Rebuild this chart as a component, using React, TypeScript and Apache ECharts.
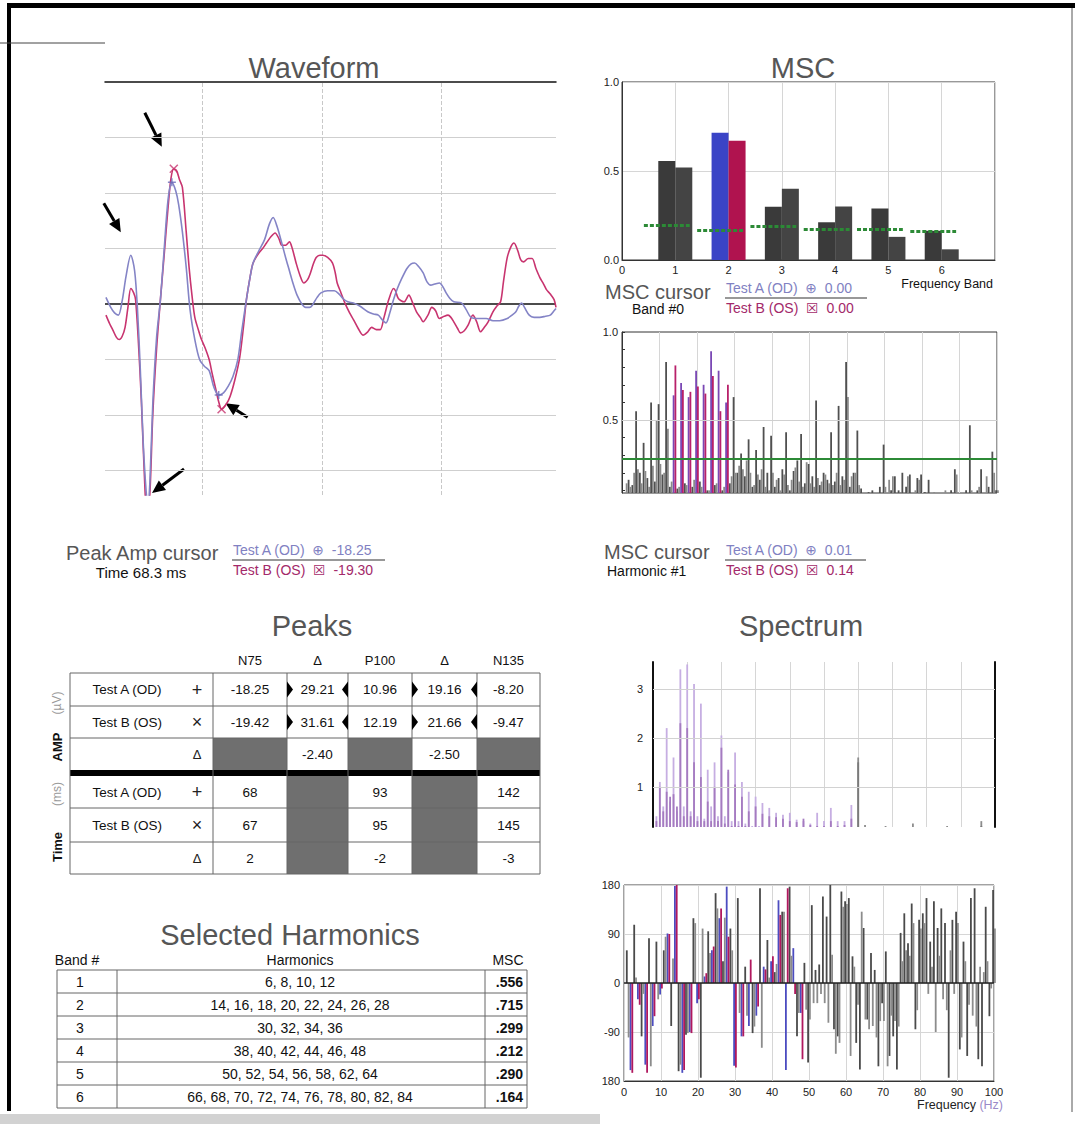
import React, { useEffect, useRef } from "react";
import * as echarts from "echarts";

const FONT = "'Liberation Sans', Arial, Helvetica, 'DejaVu Sans', sans-serif";
const TITLE_GRAY = "#565656";
const TEXT_A = "#8181c2";
const TEXT_B = "#a3296a";

// ---------- Waveform: [time (ms), amplitude (µV)] ----------
const waveA: [number, number][] = [
  [24, 0.6], [29, -0.3], [33, -0.8], [37, -1.0], [41, 0.3], [45, 2.5], [50, 4.4], [54, 3.0], [57, -0.5],
  [60, -6], [63, -12.5], [66, -16.8], [68, -18.25], [70, -16], [73, -9], [77, -3], [81, 0.4], [85, 5],
  [89, 9.4], [93, 10.96], [97, 10.2], [100, 9.0], [104, 6.5], [108, 3.3], [112, -0.5], [117, -3.2],
  [122, -5.0], [127, -5.6], [132, -6.0], [137, -7.5], [142, -8.2], [147, -8.0], [152, -7.4], [157, -6.5],
  [162, -5], [166, -2.5], [171, 0.4], [175, 2.5], [178, 3.7], [184, 4.8], [190, 5.8], [195, 7.2],
  [199, 7.8], [203, 7.0], [208, 5.5], [212, 4.2], [216, 3.0], [220, 1.8], [224, 0.8], [229, 0.0],
  [233, -0.3], [237, -0.3], [240, -0.1], [245, 0.6], [249, 1.0], [256, 1.2], [263, 1.2], [268, 0.9],
  [272, 0.5], [277, 0.2], [283, 0.1], [290, -0.2], [298, -0.7], [304, -0.9], [309, -1.0], [313, -1.4],
  [317, -1.7], [321, -0.8], [325, 0.4], [329, 1.4], [333, 2.2], [339, 3.2], [343, 3.6], [347, 3.7],
  [351, 3.4], [356, 2.8], [360, 2.0], [364, 1.7], [368, 1.8], [373, 1.9], [377, 1.5], [380, 1.0],
  [384, 0.5], [388, 0.2], [396, 0.1], [401, -0.5], [406, -1.2], [414, -1.3], [422, -1.3], [429, -1.5],
  [436, -1.5], [444, -1.3], [449, -1.0], [453, -0.7], [456, -0.2], [459, 0.1], [462, -0.3], [467, -1.0],
  [472, -1.2], [478, -1.2], [484, -1.1], [489, -1.0], [493, -0.6], [495, -0.4],
];
const waveB: [number, number][] = [
  [24, -1.0], [28, -1.8], [31, -2.3], [35, -3.0], [38, -3.2], [41, -2.9], [44, -2.1], [47, -0.3],
  [50, 1.4], [53, 1.0], [55, 0.4], [58, -3.5], [61, -8.6], [64, -15], [67, -19.42], [70, -17], [73, -10],
  [77, -4], [81, 0.4], [85, 4.5], [89, 8.7], [92, 11.3], [95, 12.19], [98, 12.0], [101, 11.2], [104, 10.5],
  [108, 6.5], [111, 3.3], [114, 0.8], [117, -1.2], [121, -2.4], [124, -3.2], [128, -4.0], [132, -5.0],
  [135, -6.2], [139, -7.7], [142, -8.8], [145, -9.47], [150, -9.0], [154, -8.3], [159, -6.8], [164, -4.8],
  [168, -2.0], [171, 0.4], [175, 2.5], [178, 3.7], [184, 4.6], [188, 5.0], [192, 5.5], [197, 6.1],
  [201, 6.4], [205, 5.9], [208, 5.3], [212, 5.3], [216, 5.6], [219, 5.0], [223, 3.7], [227, 2.6],
  [231, 1.9], [235, 2.2], [238, 2.8], [241, 3.6], [244, 4.2], [248, 4.4], [251, 4.4], [256, 4.2],
  [261, 3.7], [264, 2.8], [266, 1.9], [270, 1.0], [274, 0.1], [279, -0.8], [283, -1.4], [288, -2.2],
  [293, -2.8], [298, -2.5], [302, -2.1], [307, -2.3], [311, -2.3], [315, -1.2], [320, 0.4], [325, 1.4],
  [327, 1.2], [330, 0.5], [336, 0.2], [341, 0.8], [345, 0.1], [349, -0.7], [353, -1.2], [356, -1.6],
  [361, -1.0], [365, -0.3], [369, -0.6], [373, -1.3], [378, -1.1], [382, -1.0], [385, -1.2], [388, -1.6],
  [392, -2.2], [395, -2.6], [399, -2.4], [403, -1.9], [408, -1.0], [412, -1.6], [416, -2.5], [420, -2.1],
  [424, -1.6], [429, -0.7], [433, -0.2], [437, 0.2], [440, 2.0], [444, 4.2], [448, 5.2], [451, 5.5],
  [455, 4.8], [458, 4.0], [461, 3.8], [466, 4.1], [470, 4.1], [474, 3.2], [478, 2.4], [482, 1.8],
  [485, 1.3], [489, 0.9], [493, 0.4], [495, -0.3],
];

// ---------- Peaks ----------
const peakNames = ["N75", "P100", "N135"];
const peakTimeA = [68, 93, 142];
const peakTimeB = [67, 95, 145];
const peakTimeDiff = [2, -2, -3];
const peakAmpA = [-18.25, 10.96, -8.2];
const peakAmpB = [-19.42, 12.19, -9.47];
const p2pA = [29.21, 19.16];
const p2pB = [31.61, 21.66];
const p2pDiff = [-2.4, -2.5];

// ---------- MSC per frequency band ----------
const bandNumbers = [1, 2, 3, 4, 5, 6];
const bandMscA = [0.556, 0.715, 0.299, 0.212, 0.29, 0.164];
const bandMscB = [0.52, 0.67, 0.4, 0.3, 0.13, 0.06];
const bandNoise = [0.195, 0.165, 0.19, 0.175, 0.17, 0.16];
const bandHarmonics = [
  [6, 8, 10, 12],
  [14, 16, 18, 20, 22, 24, 26, 28],
  [30, 32, 34, 36],
  [38, 40, 42, 44, 46, 48],
  [50, 52, 54, 56, 58, 62, 64],
  [66, 68, 70, 72, 74, 76, 78, 80, 82, 84],
];
const cursorBand = 2;

// ---------- Per-harmonic values, 1 … 100 Hz ----------
const harmonicMscA = [
  0.01, 0.16, 0.13, 0.55, 0.2, 0.37, 0.17, 0.6, 0.15, 0.59,
  0.19, 0.83, 0.12, 0.64, 0.11, 0.71, 0.14, 0.63, 0.12, 0.78,
  0.15, 0.7, 0.1, 0.89, 0.13, 0.78, 0.1, 0.6, 0.14, 0.63,
  0.2, 0.31, 0.18, 0.39, 0.12, 0.33, 0.16, 0.46, 0.2, 0.41,
  0.12, 0.17, 0.22, 0.43, 0.1, 0.21, 0.27, 0.42, 0.14, 0.25,
  0.18, 0.61, 0.13, 0.2, 0.16, 0.43, 0.15, 0.58, 0.18, 0.83,
  0.12, 0.2, 0.44, 0.11, 0.06, 0.09, 0.1, 0.06, 0.12, 0.36,
  0.07, 0.1, 0.18, 0.1, 0.2, 0.12, 0.19, 0.08, 0.17, 0.19,
  0.09, 0.16, 0.06, 0.07, 0.05, 0.08, 0.06, 0.1, 0.22, 0.08,
  0.06, 0.1, 0.47, 0.06, 0.1, 0.22, 0.08, 0.12, 0.32, 0.1,
];
const harmonicMscB = [
  0.14, 0.12, 0.2, 0.22, 0.14, 0.21, 0.12, 0.24, 0.5, 0.25,
  0.2, 0.45, 0.15, 0.81, 0.12, 0.67, 0.13, 0.66, 0.16, 0.69,
  0.12, 0.65, 0.1, 0.75, 0.14, 0.55, 0.12, 0.7, 0.18, 0.2,
  0.24, 0.22, 0.27, 0.2, 0.13, 0.19, 0.22, 0.12, 0.1, 0.2,
  0.16, 0.1, 0.19, 0.13, 0.16, 0.23, 0.15, 0.12, 0.26, 0.14,
  0.12, 0.17, 0.15, 0.19, 0.14, 0.13, 0.2, 0.13, 0.16, 0.63,
  0.18, 0.2, 0.13, 0.06, 0.08, 0.06, 0.07, 0.05, 0.08, 0.12,
  0.16, 0.18, 0.07, 0.09, 0.06, 0.18, 0.08, 0.1, 0.16, 0.08,
  0.07, 0.06, 0.09, 0.05, 0.06, 0.1, 0.07, 0.09, 0.19, 0.06,
  0.08, 0.06, 0.1, 0.07, 0.12, 0.06, 0.18, 0.09, 0.2, 0.1,
];
const harmonicNoise = 0.28;

const spectrumA = [
  0.4, 1.1, 0.6, 2.2, 0.7, 1.6, 0.5, 3.4, 0.6, 3.5,
  0.5, 3.1, 0.4, 2.7, 0.35, 1.35, 0.6, 1.5, 0.4, 2.05,
  0.4, 1.3, 0.3, 1.7, 0.3, 1.1, 0.25, 0.9, 0.2, 0.8,
  0.2, 0.67, 0.15, 0.57, 0.15, 0.47, 0.12, 0.43, 0.15, 0.47,
  0.1, 0.33, 0.1, 0.3, 0.1, 0.25, 0.1, 0.47, 0.1, 0.3,
  0.1, 0.57, 0.1, 0.3, 0.1, 0.3, 0.1, 0.63, 0.1, 1.6,
  0.1, 0.22, 0.1, 0.12, 0.1, 0.15, 0.1, 0.2, 0.1, 0.12,
  0.1, 0.14, 0.1, 0.12, 0.1, 0.25, 0.1, 0.12, 0.1, 0.14,
  0.1, 0.12, 0.1, 0.15, 0.1, 0.2, 0.1, 0.12, 0.1, 0.12,
  0.1, 0.12, 0.1, 0.14, 0.1, 0.3, 0.1, 0.12, 0.1, 0.12,
];
const spectrumB = [
  0.3, 1.0, 0.5, 0.9, 0.8, 0.85, 0.6, 2.3, 0.4, 2.2,
  0.4, 1.5, 0.3, 1.2, 0.3, 0.7, 0.3, 1.0, 0.3, 1.8,
  0.25, 1.35, 0.2, 1.05, 0.2, 0.8, 0.2, 0.5, 0.15, 0.6,
  0.12, 0.45, 0.12, 0.4, 0.1, 0.38, 0.1, 0.35, 0.1, 0.3,
  0.1, 0.28, 0.1, 0.35, 0.1, 0.22, 0.1, 0.2, 0.1, 0.2,
  0.1, 0.3, 0.1, 0.2, 0.1, 0.22, 0.1, 0.35, 0.1, 1.5,
  0.1, 0.15, 0.1, 0.1, 0.1, 0.12, 0.1, 0.1, 0.1, 0.1,
  0.1, 0.1, 0.1, 0.1, 0.1, 0.15, 0.1, 0.1, 0.1, 0.1,
  0.1, 0.1, 0.1, 0.1, 0.1, 0.12, 0.1, 0.1, 0.1, 0.1,
  0.1, 0.1, 0.1, 0.1, 0.1, 0.2, 0.1, 0.1, 0.1, 0.1,
];
const phaseA = [
  60, -160, 107, -30, -98, -150, 82, -79, 76, -21,
  60, 91, -79, 178, -162, -165, -95, -90, 119, -37,
  -174, 12, 95, 60, 165, 119, 40, 177, 100, -152,
  156, -98, 30, -79, -92, -60, 174, 30, 79, 40,
  20, 152, 131, -160, 177, 64, -98, -55, 37, -146,
  143, 24, 34, 159, 122, 180, -85, -98, 168, 150,
  156, 49, -110, -159, 101, -67, 55, 24, -153, -37,
  58, -134, -98, -159, 92, 128, 73, 146, -85, 116,
  128, 156, 76, 150, 101, 137, 110, -174, 116, 131,
  -122, 76, -134, 156, 174, -140, -153, 140, -61, 171,
];
const phaseB = [
  -100, -165, 10, -40, -20, -165, -153, -61, -30, -10,
  85, 90, 45, 180, -150, -160, -92, -92, 110, -30,
  100, 18, 55, 67, 137, 137, 120, 85, 60, -155,
  -55, -98, -60, 43, -80, -43, -119, 25, 10, 49,
  35, 125, 131, 174, 50, -20, -55, -140, -49, -67,
  -37, -37, -20, -37, -73, 52, -130, -110, 140, 145,
  -134, 30, -40, 131, -67, -85, -79, -100, -70, -70,
  -153, -60, -70, -80, 40, 60, 50, 110, -50, 100,
  110, -20, 30, -90, 50, -30, -50, 60, -20, 110,
  -100, 40, -40, -60, -80, 30, 20, 40, -10, 100,
];

// ---------- Layout ----------
const WF = { left: 105, top: 82, width: 451, height: 413, tMin: 23, tMax: 495, vMin: -17.2, vMax: 20 };
const wfX = (t: number) => WF.left + ((t - WF.tMin) / (WF.tMax - WF.tMin)) * WF.width;
const wfY = (v: number) => WF.top + ((WF.vMax - v) / (WF.vMax - WF.vMin)) * WF.height;

const txt = (x: number, y: number, text: string, size: number, fill: string, align = "left", extra: any = {}) => ({
  type: "text", x, y, silent: true,
  style: { text, fontSize: size, fontFamily: FONT, fill, align, verticalAlign: "middle", ...extra },
});
const vtxt = (x: number, y: number, text: string, size: number, fill: string, extra: any = {}) => ({
  ...txt(x, y, text, size, fill, "center", extra),
  rotation: Math.PI / 2,
});
const hline = (x1: number, x2: number, y: number, stroke = "#555", w = 1) => ({
  type: "line", silent: true, shape: { x1, y1: y, x2, y2: y }, style: { stroke, lineWidth: w },
});
const vline = (x: number, y1: number, y2: number, stroke = "#555", w = 1) => ({
  type: "line", silent: true, shape: { x1: x, y1, x2: x, y2 }, style: { stroke, lineWidth: w },
});
const box = (x: number, y: number, width: number, height: number, fill: string) => ({
  type: "rect", silent: true, shape: { x, y, width, height }, style: { fill },
});

function arrow(hx: number, hy: number, tx: number, ty: number) {
  const dx = hx - tx, dy = hy - ty;
  const len = Math.hypot(dx, dy);
  const ux = dx / len, uy = dy / len;
  const hl = 13, hw = 6;
  const bx = hx - ux * hl, by = hy - uy * hl;
  return [
    { type: "line", silent: true, shape: { x1: tx, y1: ty, x2: bx, y2: by }, style: { stroke: "#000", lineWidth: 3 } },
    {
      type: "polygon", silent: true,
      shape: { points: [[hx, hy], [bx - uy * hw, by + ux * hw], [bx + uy * hw, by - ux * hw]] },
      style: { fill: "#000" },
    },
  ];
}

function cursorLines(x: number, y: number, w: number, aVal: string, bVal: string) {
  return [
    txt(x + 1, y - 10, `Test A (OD)  \u2295  ${aVal}`, 14, TEXT_A),
    hline(x, x + w, y, "#333", 1.2),
    txt(x + 1, y + 10, `Test B (OS)  \u2612  ${bVal}`, 14, TEXT_B),
  ];
}

function peaksTable() {
  const xs = [70, 213, 287, 348, 412, 477, 540];
  const ampRows = [673, 706, 738, 770];
  const timeRows = [776, 808, 842, 874];
  const centers = xs.slice(1, -1).map((x, i) => (x + xs[i + 2]) / 2);
  const els: any[] = [];
  const header = [peakNames[0], "\u0394", peakNames[1], "\u0394", peakNames[2]];
  header.forEach((h, i) => els.push(txt(centers[i], 660, h, 13, "#111", "center")));

  const ampA = [peakAmpA[0], p2pA[0], peakAmpA[1], p2pA[1], peakAmpA[2]].map((v) => v.toFixed(2));
  const ampB = [peakAmpB[0], p2pB[0], peakAmpB[1], p2pB[1], peakAmpB[2]].map((v) => v.toFixed(2));
  const ampD = ["", p2pDiff[0].toFixed(2), "", p2pDiff[1].toFixed(2), ""];
  const tA = [String(peakTimeA[0]), "", String(peakTimeA[1]), "", String(peakTimeA[2])];
  const tB = [String(peakTimeB[0]), "", String(peakTimeB[1]), "", String(peakTimeB[2])];
  const tD = [String(peakTimeDiff[0]), "", String(peakTimeDiff[1]), "", String(peakTimeDiff[2])];

  // shaded cells
  [0, 2, 4].forEach((c) => els.push(box(xs[c + 1], ampRows[2], xs[c + 2] - xs[c + 1], ampRows[3] - ampRows[2], "#6f6f6f")));
  [1, 3].forEach((c) => els.push(box(xs[c + 1], timeRows[0], xs[c + 2] - xs[c + 1], timeRows[3] - timeRows[0], "#6f6f6f")));

  // rules
  ampRows.slice(0, 3).forEach((y) => els.push(hline(xs[0], xs[6], y, "#666")));
  timeRows.slice(1).forEach((y) => els.push(hline(xs[0], xs[6], y, "#666")));
  els.push(box(xs[0], 770, xs[6] - xs[0], 6, "#000"));
  xs.forEach((x) => els.push(vline(x, ampRows[0], timeRows[3], "#666")));

  const labels = ["Test A (OD)", "Test B (OS)", ""];
  const symbols = ["+", "\u00d7", "\u0394"];
  const fill = (rows: number[], data: string[][]) => {
    data.forEach((row, r) => {
      const yc = (rows[r] + rows[r + 1]) / 2;
      if (labels[r]) els.push(txt(127, yc, labels[r], 13.5, "#111", "center"));
      els.push(txt(197, yc, symbols[r], r === 2 ? 13 : 18, "#222", "center"));
      row.forEach((v, c) => {
        if (v) els.push(txt(centers[c], yc, v, 13.5, "#111", "center"));
      });
    });
  };
  fill(ampRows, [ampA, ampB, ampD]);
  fill(timeRows, [tA, tB, tD]);

  // peak-to-peak markers in the amplitude delta columns
  [0, 1].forEach((r) => {
    const yc = (ampRows[r] + ampRows[r + 1]) / 2;
    [1, 3].forEach((c) => {
      const xl = xs[c + 1], xr = xs[c + 2];
      els.push({ type: "polygon", silent: true, shape: { points: [[xl, yc - 8], [xl + 6, yc], [xl, yc + 8]] }, style: { fill: "#000" } });
      els.push({ type: "polygon", silent: true, shape: { points: [[xr, yc - 8], [xr - 6, yc], [xr, yc + 8]] }, style: { fill: "#000" } });
    });
  });

  // side labels
  els.push(vtxt(57, 703, "(\u00b5V)", 12, "#9a9a9a"));
  els.push(vtxt(57, 747, "AMP", 13, "#111", { fontWeight: "bold" }));
  els.push(vtxt(57, 794, "(ms)", 12, "#9a9a9a"));
  els.push(vtxt(57, 847, "Time", 13, "#111", { fontWeight: "bold" }));
  return els;
}

function harmonicsTable() {
  const els: any[] = [];
  const xs = [57, 117, 485, 527];
  const ys = [970, 993, 1016, 1039, 1062, 1085, 1108];
  els.push(txt(77, 960, "Band #", 14, "#111", "center"));
  els.push(txt(300, 960, "Harmonics", 14, "#111", "center"));
  els.push(txt(508, 960, "MSC", 14, "#111", "center"));
  ys.forEach((y) => els.push(hline(xs[0], xs[3], y, "#666")));
  xs.forEach((x) => els.push(vline(x, ys[0], ys[6], "#666")));
  bandNumbers.forEach((b, i) => {
    const yc = (ys[i] + ys[i + 1]) / 2;
    els.push(txt(80, yc, String(b), 14, "#111", "center"));
    els.push(txt(300, yc, bandHarmonics[i].join(", "), 14, "#111", "center"));
    els.push(txt(523, yc, bandMscA[i].toFixed(3).replace(/^0/, ""), 14, "#111", "right", { fontWeight: "bold" }));
  });
  return els;
}

function buildGraphics() {
  const els: any[] = [];
  // page frame
  els.push(box(8, 3, 1067, 5, "#000"));
  els.push(box(7, 3, 4, 1108, "#000"));
  els.push(vline(1072, 8, 1112, "#555", 1));
  els.push(hline(0, 105, 43, "#444", 1));
  els.push(box(0, 1114, 600, 10, "#d2d2d2"));

  // titles
  els.push(txt(314, 68, "Waveform", 29, TITLE_GRAY, "center"));
  els.push(txt(803, 68, "MSC", 29, TITLE_GRAY, "center"));
  els.push(txt(312, 626, "Peaks", 29, TITLE_GRAY, "center"));
  els.push(txt(801, 626, "Spectrum", 29, TITLE_GRAY, "center"));
  els.push(txt(290, 935, "Selected Harmonics", 29, TITLE_GRAY, "center"));

  // band MSC cursor read-out
  els.push(txt(605, 292, "MSC cursor", 20, TITLE_GRAY));
  els.push(txt(658, 309, "Band #0", 14, "#111", "center"));
  els.push(...cursorLines(725, 298, 142, "0.00", "0.00"));
  els.push(txt(993, 284, "Frequency Band", 12.5, "#111", "right"));

  // harmonic MSC cursor read-out
  els.push(txt(604, 552, "MSC cursor", 20, TITLE_GRAY));
  els.push(txt(607, 571, "Harmonic #1", 14, "#111"));
  els.push(...cursorLines(725, 560, 141, harmonicMscA[0].toFixed(2), harmonicMscB[0].toFixed(2)));

  // waveform cursor read-out
  els.push(txt(66, 553, "Peak Amp cursor", 20, TITLE_GRAY));
  els.push(txt(141, 572, "Time 68.3 ms", 15, "#111", "center"));
  els.push(...cursorLines(232, 560, 153, peakAmpA[0].toFixed(2), "-19.30"));

  // phase x-axis name
  els.push({
    type: "text", x: 960, y: 1105, silent: true,
    style: {
      text: "{a|Frequency} {b|(Hz)}", align: "center", verticalAlign: "middle",
      rich: {
        a: { fontSize: 12.5, fontFamily: FONT, fill: "#222" },
        b: { fontSize: 12.5, fontFamily: FONT, fill: "#9a8ac8" },
      },
    },
  });

  // arrows pointing at waveform peaks
  const p50 = waveA.find((p) => p[0] === 50)!;
  const headA = [wfX(p50[0]) - 10, wfY(p50[1]) - 23];
  const headP100 = [wfX(peakTimeB[1]) - 12, wfY(peakAmpB[1]) - 22];
  const headN135 = [wfX(peakTimeB[2]) + 4, wfY(peakAmpB[2]) - 6];
  const headN75 = [wfX(peakTimeB[0]) + 5, WF.top + WF.height - 2];
  els.push(...arrow(headA[0], headA[1], headA[0] - 17, headA[1] - 29));
  els.push(...arrow(headP100[0], headP100[1], headP100[0] - 17, headP100[1] - 34));
  els.push(...arrow(headN135[0], headN135[1], headN135[0] + 22, headN135[1] + 14));
  els.push(...arrow(headN75[0], headN75[1], headN75[0] + 32, headN75[1] - 24));

  els.push(...peaksTable());
  els.push(...harmonicsTable());
  return els;
}

const freqs = harmonicMscA.map((_, i) => i + 1);
const cursorHarmonics = bandHarmonics[cursorBand - 1];
const phaseColoured = bandHarmonics.slice(0, 4).flat().concat([2, 4]);

const markLineBase = { silent: true, symbol: ["none", "none"], label: { show: false }, animation: false };

function buildOption(): any {
  const grayAxisLine = { lineStyle: { color: "#333", width: 1 } };
  const split = { show: true, lineStyle: { color: "#d6d6d6", width: 1 } };
  const labelStyle = { fontSize: 11, color: "#222", fontFamily: FONT };

  return {
    animation: false,
    backgroundColor: "#fff",
    textStyle: { fontFamily: FONT },
    grid: [
      { left: WF.left, top: WF.top, width: WF.width, height: WF.height },
      { left: 622, top: 82, width: 373, height: 178, show: true, borderColor: "#333", borderWidth: 1 },
      { left: 622, top: 332, width: 375, height: 161, show: true, borderColor: "#333", borderWidth: 1 },
      { left: 653, top: 662, width: 342, height: 165 },
      { left: 624, top: 885, width: 370, height: 196, show: true, borderColor: "#444", borderWidth: 1 },
    ],
    xAxis: [
      {
        gridIndex: 0, type: "value", min: WF.tMin, max: WF.tMax, position: "top",
        axisLine: { show: true, onZero: false, lineStyle: { color: "#111", width: 1.5 } },
        axisTick: { show: false }, axisLabel: { show: false }, splitLine: { show: false },
      },
      {
        gridIndex: 1, type: "value", min: 0, max: 7, interval: 1,
        axisLine: { show: true, onZero: false, ...grayAxisLine }, axisTick: { show: false },
        axisLabel: { ...labelStyle, margin: 4, formatter: (v: number) => (v === 7 ? "" : String(v)) },
        splitLine: split,
      },
      {
        gridIndex: 2, type: "value", min: 0, max: 100, interval: 10,
        axisLine: { show: false, onZero: false }, axisTick: { show: false }, axisLabel: { show: false }, splitLine: split,
      },
      {
        gridIndex: 3, type: "value", min: 0, max: 100, interval: 10,
        axisLine: { show: false, onZero: false }, axisTick: { show: false }, axisLabel: { show: false }, splitLine: split,
      },
      {
        gridIndex: 4, type: "value", min: 0, max: 100, interval: 10,
        axisLine: { show: true, onZero: false, ...grayAxisLine }, axisTick: { show: false },
        axisLabel: { ...labelStyle, margin: 5 }, splitLine: split,
      },
    ],
    yAxis: [
      { gridIndex: 0, type: "value", min: WF.vMin, max: WF.vMax, show: false },
      {
        gridIndex: 1, type: "value", min: 0, max: 1, interval: 0.5,
        axisLine: { show: true, onZero: false, ...grayAxisLine }, axisTick: { show: false },
        axisLabel: { ...labelStyle, margin: 3, formatter: (v: number) => v.toFixed(1) }, splitLine: split,
      },
      {
        gridIndex: 2, type: "value", min: 0.085, max: 1,
        axisLine: { show: true, onZero: false, ...grayAxisLine },
        axisTick: { show: true, inside: true, length: 3, lineStyle: { color: "#333" }, customValues: [0.1, 0.2, 0.3, 0.4, 0.5, 0.6, 0.7, 0.8, 0.9, 1.0] },
        axisLabel: { ...labelStyle, margin: 4, customValues: [0.5, 1.0], formatter: (v: number) => v.toFixed(1) },
        splitLine: { show: false },
      },
      {
        gridIndex: 3, type: "value", min: 0.18, max: 3.55,
        axisLine: { show: true, onZero: false, lineStyle: { color: "#111", width: 2 } }, axisTick: { show: false },
        axisLabel: { ...labelStyle, margin: 10, customValues: [1, 2, 3], formatter: (v: number) => String(Math.round(v)) },
        splitLine: { show: false },
      },
      {
        gridIndex: 4, type: "value", min: -180, max: 180, interval: 90,
        axisLine: { show: false, onZero: false }, axisTick: { show: false },
        axisLabel: { ...labelStyle, margin: 4, formatter: (v: number) => (v === -180 ? "180" : String(v)) },
        splitLine: split,
      },
      {
        gridIndex: 3, type: "value", position: "right", min: 0, max: 1,
        axisLine: { show: true, onZero: false, lineStyle: { color: "#111", width: 2 } },
        axisTick: { show: false }, axisLabel: { show: false }, splitLine: { show: false },
      },
    ],
    series: [
      // waveform
      {
        type: "line", xAxisIndex: 0, yAxisIndex: 0, data: waveA, smooth: 0.3, showSymbol: false,
        lineStyle: { color: "#8484c6", width: 1.6 }, z: 3,
        markLine: {
          ...markLineBase, z: 1,
          lineStyle: { color: "#cfcfcf", width: 1, type: "solid" },
          data: [
            { yAxis: 15 }, { yAxis: 10 }, { yAxis: 5 }, { yAxis: -5 }, { yAxis: -10 }, { yAxis: -15 },
            { xAxis: 125, lineStyle: { type: "dashed", color: "#c8c8c8" } },
            { xAxis: 250, lineStyle: { type: "dashed", color: "#c8c8c8" } },
            { xAxis: 375, lineStyle: { type: "dashed", color: "#c8c8c8" } },
          ],
        },
      },
      {
        type: "line", xAxisIndex: 0, yAxisIndex: 0, data: waveB, smooth: 0.3, showSymbol: false,
        lineStyle: { color: "#c8346f", width: 1.6 }, z: 2,
        markLine: { ...markLineBase, z: 1, lineStyle: { color: "#111", width: 1.5, type: "solid" }, data: [{ yAxis: 0 }] },
      },
      {
        type: "scatter", xAxisIndex: 0, yAxisIndex: 0, z: 4,
        data: peakTimeA.map((t, i) => [t, peakAmpA[i]]),
        symbol: "path://M5,0L5,10M0,5L10,5", symbolSize: 8,
        itemStyle: { color: "none", borderColor: "#6a6ab8", borderWidth: 1.5 },
      },
      {
        type: "scatter", xAxisIndex: 0, yAxisIndex: 0, z: 4,
        data: peakTimeB.map((t, i) => [t, peakAmpB[i]]),
        symbol: "path://M0,0L10,10M10,0L0,10", symbolSize: 8,
        itemStyle: { color: "none", borderColor: "#c8346f", borderWidth: 1.5 },
      },
      // MSC by band
      {
        type: "bar", xAxisIndex: 1, yAxisIndex: 1, barWidth: 17, barGap: "0%",
        data: bandNumbers.map((b, i) => ({ value: [b, bandMscA[i]], itemStyle: { color: b === cursorBand ? "#3a44c6" : "#3a3a3a" } })),
        markLine: {
          ...markLineBase,
          lineStyle: { color: "#2c8a36", width: 3, type: [4, 2] },
          data: bandNumbers.map((b, i) => [{ coord: [b - 0.43, bandNoise[i]] }, { coord: [b + 0.43, bandNoise[i]] }]),
        },
      },
      {
        type: "bar", xAxisIndex: 1, yAxisIndex: 1, barWidth: 17, barGap: "0%",
        data: bandNumbers.map((b, i) => ({ value: [b, bandMscB[i]], itemStyle: { color: b === cursorBand ? "#b0134f" : "#444444" } })),
      },
      // MSC per harmonic
      {
        type: "bar", xAxisIndex: 2, yAxisIndex: 2, barWidth: 1.8, barGap: "0%",
        data: freqs.map((f, i) => ({ value: [f, harmonicMscA[i]], itemStyle: { color: cursorHarmonics.includes(f) ? "#7a48b4" : "#505050" } })),
        markLine: {
          ...markLineBase,
          data: [
            { yAxis: 0.5, lineStyle: { color: "#cfcfcf", width: 1, type: "solid" } },
            { yAxis: harmonicNoise, lineStyle: { color: "#2c8a36", width: 2, type: "solid" } },
          ],
        },
      },
      {
        type: "bar", xAxisIndex: 2, yAxisIndex: 2, barWidth: 1.8, barGap: "0%",
        data: freqs.map((f, i) => ({ value: [f, harmonicMscB[i]], itemStyle: { color: cursorHarmonics.includes(f) ? "#b8206a" : "#8a8a8a" } })),
      },
      // spectrum
      {
        type: "bar", xAxisIndex: 3, yAxisIndex: 3, barWidth: 1.8, barGap: "-100%",
        data: freqs.map((f, i) => ({ value: [f, spectrumA[i]], itemStyle: { color: f >= 60 ? "#8c8c8c" : "#c6aee2" } })),
        markLine: {
          ...markLineBase,
          lineStyle: { color: "#d2d2d2", width: 1, type: "solid" },
          data: [{ yAxis: 1 }, { yAxis: 2 }, { yAxis: 3 }],
        },
      },
      {
        type: "bar", xAxisIndex: 3, yAxisIndex: 3, barWidth: 1.8, barGap: "-100%",
        data: freqs.map((f, i) => ({ value: [f, spectrumB[i]], itemStyle: { color: f >= 60 ? "#7a7a7a" : "#a57bc0" } })),
      },
      // phase
      {
        type: "bar", xAxisIndex: 4, yAxisIndex: 4, barWidth: 1.8, barGap: "0%",
        data: freqs.map((f, i) => ({ value: [f, phaseA[i]], itemStyle: { color: phaseColoured.includes(f) ? "#4c4cc0" : "#4a4a4a" } })),
        markLine: { ...markLineBase, lineStyle: { color: "#222", width: 1.5, type: "solid" }, data: [{ yAxis: 0 }] },
      },
      {
        type: "bar", xAxisIndex: 4, yAxisIndex: 4, barWidth: 1.8, barGap: "0%",
        data: freqs.map((f, i) => ({ value: [f, phaseB[i]], itemStyle: { color: phaseColoured.includes(f) ? "#b0185e" : "#8c8c8c" } })),
      },
    ],
    graphic: { elements: buildGraphics() },
  };
}

export default function App() {
  const ref = useRef<HTMLDivElement>(null);
  useEffect(() => {
    if (!ref.current) return;
    const chart = echarts.init(ref.current, undefined, { renderer: "svg" });
    chart.setOption(buildOption());
    return () => chart.dispose();
  }, []);
  return (
    <div
      ref={ref}
      style={{ position: "fixed", left: 0, top: 0, width: 1075, height: 1124, background: "#fff" }}
    />
  );
}
